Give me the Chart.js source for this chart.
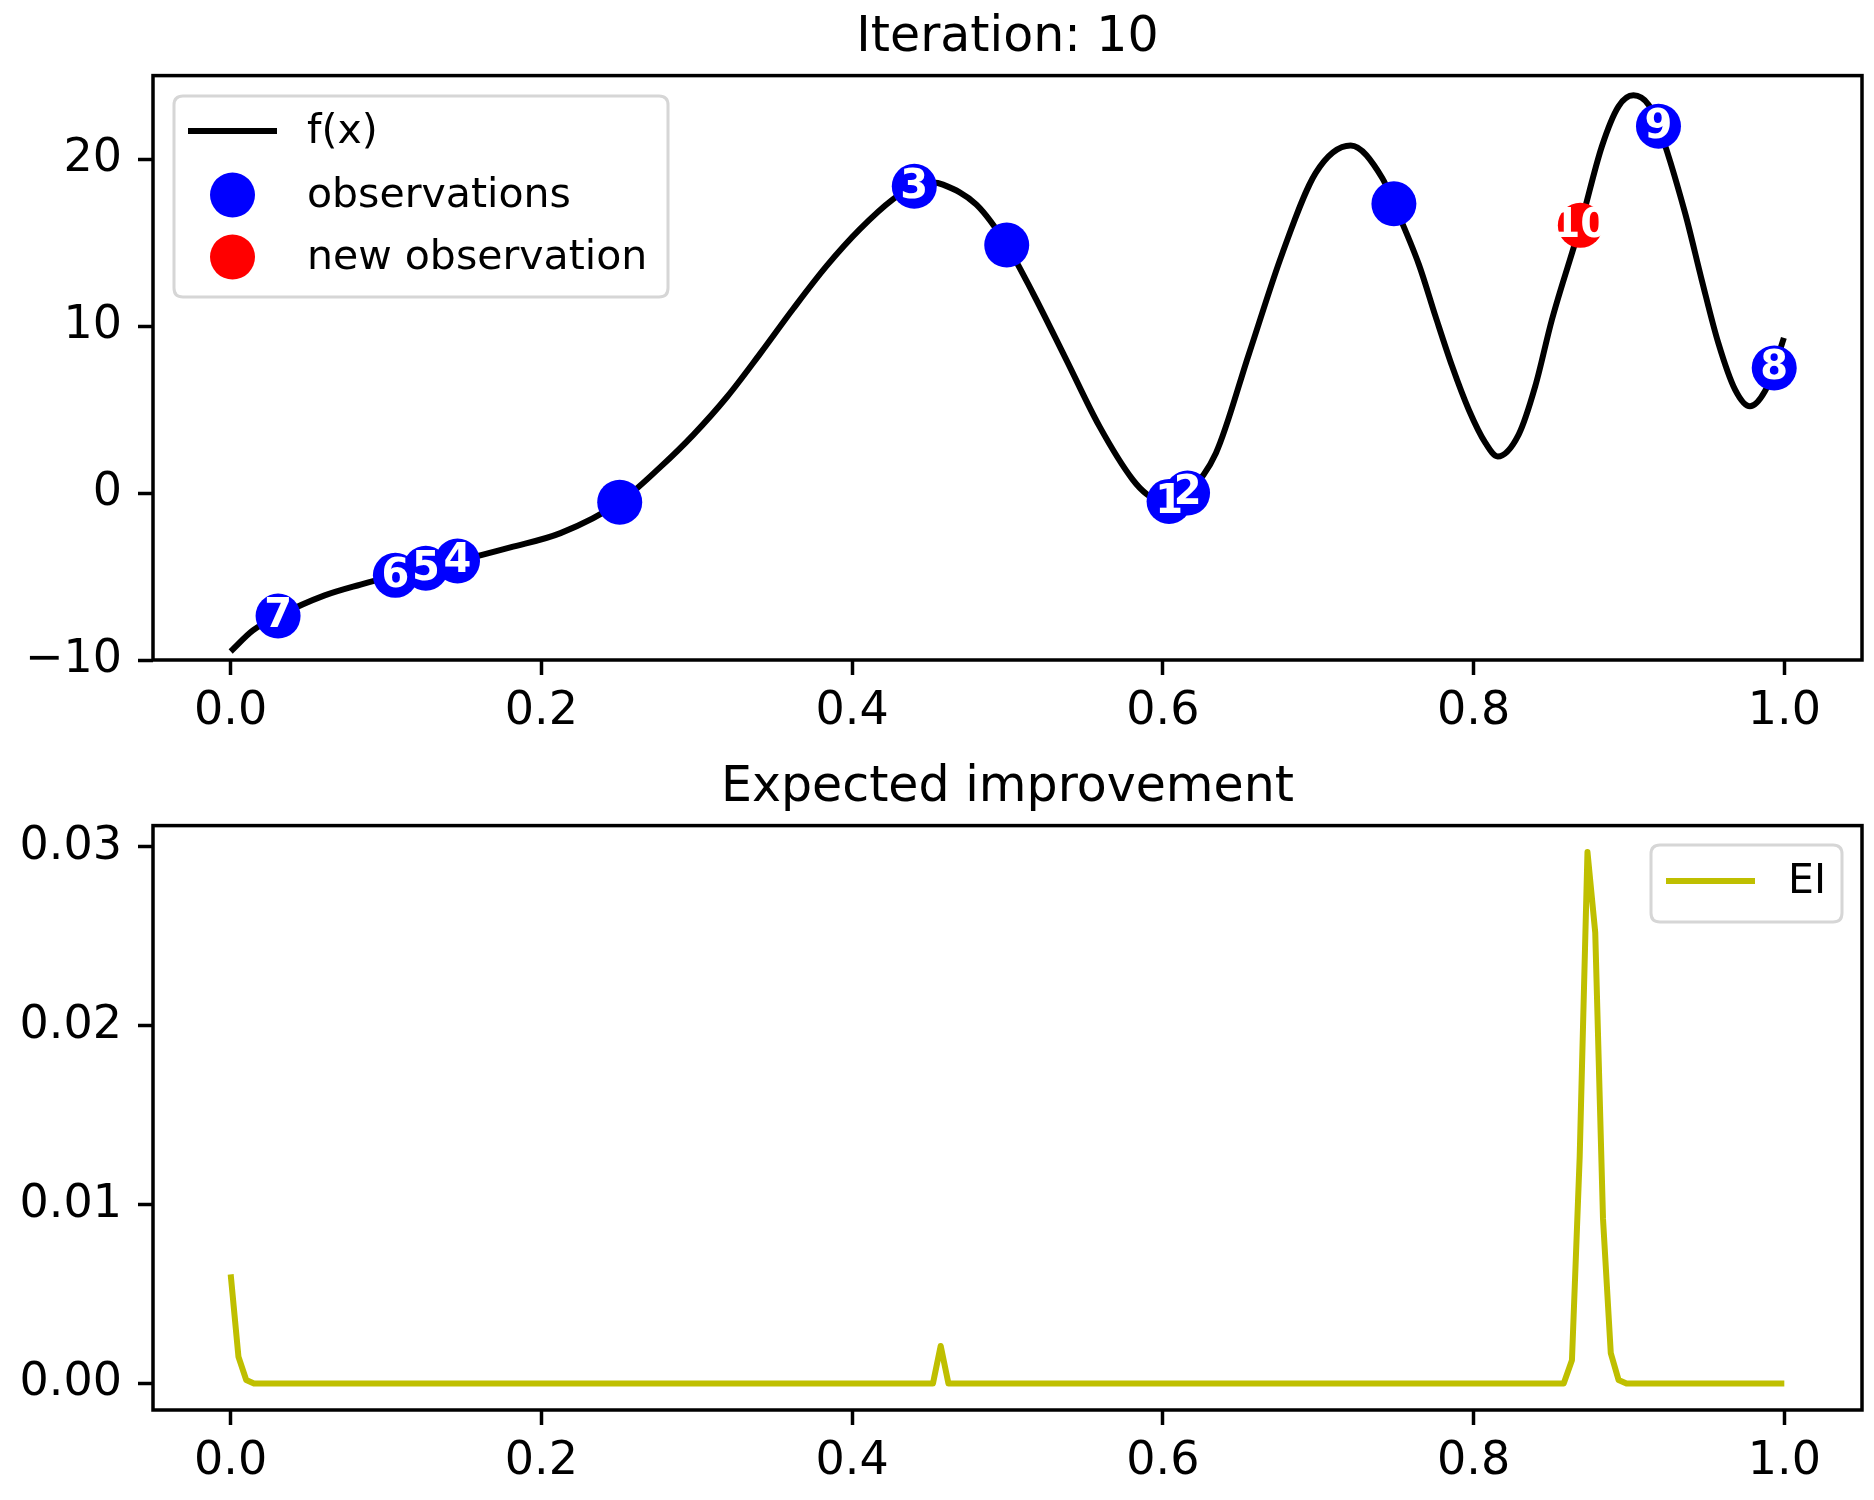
<!DOCTYPE html>
<html>
<head>
<meta charset="utf-8">
<script src="https://cdn.jsdelivr.net/npm/chart.js@4.4.1/dist/chart.umd.min.js"></script>
<style>
  html, body { margin: 0; padding: 0; background: #ffffff; }
  #wrap { position: relative; width: 1874px; height: 1500px; background: #ffffff; }
  canvas { position: absolute; left: 0; }
</style>
</head>
<body>
<div id="wrap">
  <canvas id="c1" width="1874" height="750" style="top:0px;width:1874px;height:750px"></canvas>
  <canvas id="c2" width="1874" height="750" style="top:750px;width:1874px;height:750px"></canvas>
</div>
<script>
// ---------------- data ----------------
const topTitle = 'Iteration: 10';
const bottomTitle = 'Expected improvement';

// objective f(x)
const fxX = [0.000, 0.0143, 0.0305, 0.0605, 0.0836, 0.106, 0.1256, 0.146, 0.180, 0.2123, 0.2504,
             0.2765, 0.2979, 0.3194, 0.3408, 0.3622, 0.3836, 0.405, 0.4264, 0.440, 0.452, 0.4585,
             0.480, 0.4995, 0.5163, 0.5378, 0.5592, 0.5806, 0.590, 0.600, 0.604, 0.6159, 0.6342,
             0.6556, 0.677, 0.6984, 0.7209, 0.7412, 0.7487, 0.7648, 0.7755, 0.7862, 0.7969, 0.8076,
             0.8155, 0.829, 0.8397, 0.8504, 0.8687, 0.8826, 0.8933, 0.9029, 0.9126, 0.919, 0.9361,
             0.9468, 0.9575, 0.9683, 0.9779, 0.9875, 0.9935, 0.9997];
const fxY = [-9.49, -8.23, -7.37, -6.13, -5.48, -4.93, -4.50, -4.07, -3.25, -2.40, -0.55,
             1.55, 3.50, 5.75, 8.35, 11.05, 13.60, 15.80, 17.60, 18.37, 18.60, 18.47,
             17.27, 14.85, 11.98, 7.99, 3.99, 0.80, -0.10, -0.55, -0.50, 0.00, 2.40,
             8.39, 14.38, 19.17, 20.81, 18.87, 17.32, 13.68, 10.58, 7.59, 4.99, 3.00,
             2.19, 3.50, 6.40, 10.38, 16.03, 20.77, 23.16, 23.82, 23.26, 21.97, 16.78,
             12.78, 8.99, 6.19, 5.19, 6.09, 7.49, 9.29];

// initial observations (no number)
const initX = [0.2504, 0.4995, 0.7487];
const initY = [-0.55, 14.85, 17.32];
// observations of iterations 1..9
const iterX = [0.604, 0.6159, 0.440, 0.146, 0.1256, 0.106, 0.0305, 0.9935, 0.919];
const iterY = [-0.50, 0.00, 18.37, -4.07, -4.50, -4.93, -7.37, 7.49, 21.97];
const iterLabels = ['1', '2', '3', '4', '5', '6', '7', '8', '9'];
// new observation
const newX = [0.8687];
const newY = [16.03];
const newLabels = ['10'];

// expected improvement
const eiX = [0.000, 0.005, 0.010, 0.015, 0.452, 0.457, 0.462, 0.858, 0.8633, 0.8683, 0.8733,
             0.8783, 0.8833, 0.8883, 0.8933, 0.8984, 1.000];
const eiY = [0.0061, 0.0015, 0.0002, 0.0, 0.0, 0.0021, 0.0, 0.0, 0.0013, 0.0127, 0.0297,
             0.0252, 0.0092, 0.0017, 0.0002, 0.0, 0.0];

// ticks
const xTicks = [0.0, 0.2, 0.4, 0.6, 0.8, 1.0];
const fTicks = [-10, 0, 10, 20];
const eiTicks = [0.00, 0.01, 0.02, 0.03];

// ---------------- helpers ----------------
const pts = (xs, ys) => xs.map((x, i) => ({ x: x, y: ys[i] }));
const FONT = "'DejaVu Sans', 'Liberation Sans', sans-serif";
Chart.defaults.color = '#000000';
Chart.defaults.font.family = FONT;

const frameBox = {
  id: 'frameBox',
  afterDatasetsDraw(chart) {
    const a = chart.chartArea, ctx = chart.ctx;
    ctx.save();
    ctx.strokeStyle = '#000000';
    ctx.lineWidth = 3.5;
    ctx.strokeRect(a.left, a.top, a.right - a.left, a.bottom - a.top);
    ctx.restore();
  }
};

const pointLabels = {
  id: 'pointLabels',
  afterDatasetsDraw(chart) {
    const ctx = chart.ctx;
    ctx.save();
    ctx.fillStyle = '#ffffff';
    ctx.font = 'bold 40px ' + FONT;
    ctx.textAlign = 'center';
    ctx.textBaseline = 'middle';
    chart.data.datasets.forEach((ds, di) => {
      if (!ds.pointLabels) return;
      const meta = chart.getDatasetMeta(di);
      meta.data.forEach((el, i) => {
        const t = ds.pointLabels[i];
        if (t) ctx.fillText(t, el.x, el.y + 1);
      });
    });
    ctx.restore();
  }
};

function roundRect(ctx, x, y, w, h, r) {
  ctx.beginPath();
  ctx.moveTo(x + r, y);
  ctx.lineTo(x + w - r, y);
  ctx.quadraticCurveTo(x + w, y, x + w, y + r);
  ctx.lineTo(x + w, y + h - r);
  ctx.quadraticCurveTo(x + w, y + h, x + w - r, y + h);
  ctx.lineTo(x + r, y + h);
  ctx.quadraticCurveTo(x, y + h, x, y + h - r);
  ctx.lineTo(x, y + r);
  ctx.quadraticCurveTo(x, y, x + r, y);
  ctx.closePath();
}

const boxLegend = {
  id: 'boxLegend',
  afterDraw(chart, args, opts) {
    const ctx = chart.ctx;
    const b = opts.box;
    ctx.save();
    roundRect(ctx, b[0], b[1], b[2], b[3], 9);
    ctx.fillStyle = 'rgba(255,255,255,0.8)';
    ctx.fill();
    ctx.strokeStyle = '#d6d6d6';
    ctx.lineWidth = 3;
    ctx.stroke();
    ctx.font = '41px ' + FONT;
    ctx.textBaseline = 'middle';
    ctx.textAlign = 'left';
    opts.rows.forEach(r => {
      const ds = chart.data.datasets[r.dataset];
      if (r.kind === 'line') {
        ctx.strokeStyle = ds.borderColor;
        ctx.lineWidth = ds.borderWidth;
        ctx.beginPath();
        ctx.moveTo(opts.handle[0], r.y);
        ctx.lineTo(opts.handle[1], r.y);
        ctx.stroke();
      } else {
        ctx.fillStyle = ds.backgroundColor;
        ctx.beginPath();
        ctx.arc((opts.handle[0] + opts.handle[1]) / 2, r.y, ds.pointRadius, 0, Math.PI * 2);
        ctx.fill();
      }
      ctx.fillStyle = '#000000';
      ctx.fillText(ds.label, opts.textX, r.y + 1);
    });
    ctx.restore();
  }
};

function xScale() {
  return {
    type: 'linear',
    min: -0.05,
    max: 1.05,
    afterBuildTicks: s => { s.ticks = xTicks.map(v => ({ value: v })); },
    afterFit: s => { s.height = 90; },
    grid: { drawOnChartArea: false, drawTicks: true, tickLength: 15, tickWidth: 3.5, tickColor: '#000000' },
    border: { display: false },
    ticks: { padding: 9, color: '#000000', font: { size: 46, family: FONT }, maxRotation: 0,
             callback: v => Number(v).toFixed(1) }
  };
}

function yScale(min, max, tickArr, fmt) {
  return {
    type: 'linear',
    min: min,
    max: max,
    afterBuildTicks: s => { s.ticks = tickArr.map(v => ({ value: v })); },
    afterFit: s => { s.width = 153; },
    grid: { drawOnChartArea: false, drawTicks: true, tickLength: 15, tickWidth: 3.5, tickColor: '#000000' },
    border: { display: false },
    ticks: { padding: 16, color: '#000000', font: { size: 46, family: FONT }, callback: fmt }
  };
}

function titleOpts(text) {
  return {
    display: true,
    fullSize: false,
    text: text,
    color: '#000000',
    font: { size: 49, weight: 'normal', family: FONT },
    padding: { top: 9, bottom: 7.8 }
  };
}

// ---------------- top chart ----------------
new Chart(document.getElementById('c1'), {
  type: 'scatter',
  data: {
    datasets: [
      { label: 'f(x)', data: pts(fxX, fxY), showLine: true, borderColor: '#000000', borderWidth: 6,
        pointRadius: 0, cubicInterpolationMode: 'monotone', order: 3, borderCapStyle: 'butt' },
      { label: 'observations', data: pts(initX.concat(iterX), initY.concat(iterY)),
        pointLabels: initX.map(() => '').concat(iterLabels),
        backgroundColor: '#0000ff', borderColor: '#0000ff', pointRadius: 22.5, pointBorderWidth: 0,
        pointHoverRadius: 22.5, order: 2 },
      { label: 'new observation', data: pts(newX, newY), pointLabels: newLabels,
        backgroundColor: '#ff0000', borderColor: '#ff0000', pointRadius: 22.5, pointBorderWidth: 0,
        pointHoverRadius: 22.5, order: 1 }
    ]
  },
  options: {
    responsive: false,
    animation: false,
    devicePixelRatio: 1,
    events: [],
    layout: { autoPadding: false, padding: { left: 0, right: 12, top: 0, bottom: 0 } },
    scales: {
      x: xScale(),
      y: yScale(-10, 25, fTicks, v => (v < 0 ? '\u2212' + Math.abs(v) : String(v)))
    },
    plugins: {
      title: titleOpts(topTitle),
      legend: { display: false },
      tooltip: { enabled: false },
      boxLegend: {
        box: [174, 96, 494, 201],
        handle: [188, 277],
        textX: 307,
        rows: [
          { dataset: 0, kind: 'line', y: 131 },
          { dataset: 1, kind: 'point', y: 195 },
          { dataset: 2, kind: 'point', y: 257 }
        ]
      }
    }
  },
  plugins: [frameBox, pointLabels, boxLegend]
});

// ---------------- bottom chart ----------------
new Chart(document.getElementById('c2'), {
  type: 'scatter',
  data: {
    datasets: [
      { label: 'EI', data: pts(eiX, eiY), showLine: true, borderColor: '#bfbf00', borderWidth: 6,
        pointRadius: 0, tension: 0, borderJoinStyle: 'round', borderCapStyle: 'butt' }
    ]
  },
  options: {
    responsive: false,
    animation: false,
    devicePixelRatio: 1,
    events: [],
    layout: { autoPadding: false, padding: { left: 0, right: 12, top: 0, bottom: 0 } },
    scales: {
      x: xScale(),
      y: yScale(-0.00148, 0.03118, eiTicks, v => Number(v).toFixed(2))
    },
    plugins: {
      title: titleOpts(bottomTitle),
      legend: { display: false },
      tooltip: { enabled: false },
      boxLegend: {
        box: [1651, 95, 191, 77],
        handle: [1666, 1755],
        textX: 1788,
        rows: [ { dataset: 0, kind: 'line', y: 131 } ]
      }
    }
  },
  plugins: [frameBox, boxLegend]
});
</script>
</body>
</html>
